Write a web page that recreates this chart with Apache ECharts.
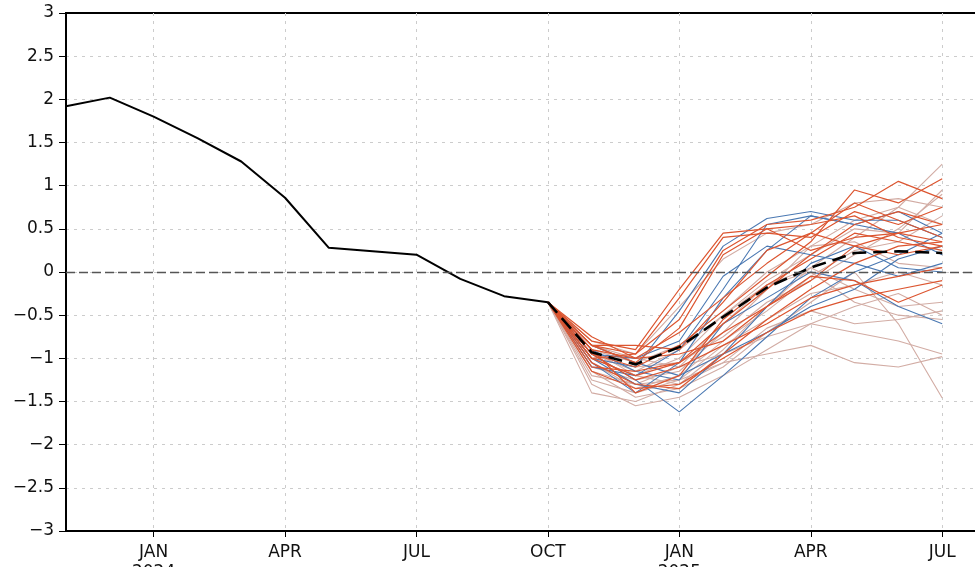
<html>
<head>
<meta charset="UTF-8">
<script src="https://cdn.jsdelivr.net/npm/echarts@6/dist/echarts.min.js"></script>
<style>
  html, body { margin: 0; padding: 0; background: #fff; }
  #main { width: 975px; height: 567px; }
</style>
</head>
<body>
<div id="main"></div>
<script type="text/javascript">
// months Nov 2023 .. Aug 2025
var months = ['2023-11','2023-12','2024-01','2024-02','2024-03','2024-04','2024-05','2024-06',
  '2024-07','2024-08','2024-09','2024-10','2024-11','2024-12','2025-01','2025-02','2025-03',
  '2025-04','2025-05','2025-06','2025-07','2025-08'];
var monthNames = ['JAN','FEB','MAR','APR','MAY','JUN','JUL','AUG','SEP','OCT','NOV','DEC'];

// observed index, Nov 2023 .. Oct 2024
var observed = [1.92, 2.02, 1.80, 1.55, 1.28, 0.86, 0.28, 0.24, 0.20, -0.08, -0.28, -0.35];

// forecasts start at Oct 2024 (index 11), Oct .. Jul
var fcStart = 11;
var ensMean = [-0.35, -0.93, -1.07, -0.87, -0.52, -0.18, 0.05, 0.22, 0.24, 0.22];

var orangeRuns = [
  [-0.35, -0.85, -0.95, -0.55, 0.25, 0.55, 0.60, 0.75, 1.05, 0.85],
  [-0.35, -0.95, -1.10, -0.85, -0.45, -0.05, 0.35, 0.95, 0.80, 1.08],
  [-0.35, -0.80, -0.90, -0.20, 0.45, 0.50, 0.55, 0.65, 0.40, 0.30],
  [-0.35, -1.00, -1.20, -1.05, -0.70, -0.40, -0.10, 0.30, 0.20, 0.30],
  [-0.35, -0.90, -1.00, -0.95, -0.80, -0.40, -0.05, -0.10, -0.35, -0.15],
  [-0.35, -1.05, -1.30, -1.35, -0.95, -0.55, -0.20, 0.10, 0.30, 0.35],
  [-0.35, -0.75, -1.00, -0.70, -0.30, 0.10, 0.45, 0.80, 0.60, 0.40],
  [-0.35, -1.10, -1.15, -1.05, -0.60, -0.20, 0.20, 0.55, 0.70, 0.55],
  [-0.35, -0.95, -1.25, -1.10, -0.85, -0.60, -0.30, -0.15, -0.05, 0.05],
  [-0.35, -0.85, -1.05, -0.65, 0.20, 0.50, 0.25, 0.40, 0.45, 0.35],
  [-0.35, -1.00, -0.95, -0.30, 0.40, 0.45, 0.40, 0.70, 0.55, 0.75],
  [-0.35, -0.90, -1.40, -1.20, -0.55, -0.15, 0.15, 0.45, 0.35, 0.25],
  [-0.35, -1.15, -1.35, -1.30, -1.00, -0.70, -0.45, -0.30, -0.20, -0.10],
  [-0.35, -0.85, -0.85, -0.90, -0.35, 0.25, 0.45, 0.30, 0.45, 0.55]
];

var blueRuns = [
  [-0.35, -1.00, -1.10, -0.45, 0.30, 0.62, 0.70, 0.60, 0.60, 0.40],
  [-0.35, -0.95, -1.25, -1.62, -1.20, -0.75, -0.30, 0.00, 0.20, 0.45],
  [-0.35, -1.05, -1.40, -1.05, -0.30, 0.25, 0.65, 0.55, 0.70, 0.45],
  [-0.35, -0.90, -1.15, -1.25, -0.60, -0.30, 0.00, -0.10, -0.40, -0.60],
  [-0.35, -0.95, -1.00, -0.80, -0.05, 0.30, 0.20, 0.10, -0.05, 0.10],
  [-0.35, -1.10, -1.20, -0.90, -0.20, 0.55, 0.65, 0.55, 0.45, 0.20],
  [-0.35, -0.85, -1.05, -1.20, -0.95, -0.70, -0.40, -0.20, 0.15, 0.30],
  [-0.35, -1.00, -1.30, -1.40, -0.95, -0.40, 0.10, 0.30, 0.05, 0.00]
];

var lightRuns = [
  [-0.35, -1.30, -1.55, -1.45, -1.20, -0.90, -0.60, -0.70, -0.80, -0.95],
  [-0.35, -0.90, -1.20, -1.30, -0.90, -0.40, 0.05, 0.40, 0.75, 1.25],
  [-0.35, -1.15, -1.45, -1.35, -1.10, -0.70, -0.35, 0.00, -0.60, -1.46],
  [-0.35, -0.80, -0.95, -0.40, 0.15, 0.45, 0.55, 0.80, 0.85, 0.75],
  [-0.35, -1.20, -1.30, -1.25, -1.05, -0.95, -0.85, -1.05, -1.10, -0.98],
  [-0.35, -1.00, -1.10, -1.05, -0.75, -0.35, -0.10, 0.20, 0.50, 0.90],
  [-0.35, -1.40, -1.50, -1.30, -1.05, -0.65, -0.45, -0.60, -0.55, -0.45],
  [-0.35, -0.95, -1.15, -0.90, -0.50, -0.15, 0.05, -0.20, -0.40, -0.35],
  [-0.35, -1.10, -1.25, -1.15, -0.70, -0.20, 0.30, 0.60, 0.75, 0.55],
  [-0.35, -0.85, -1.00, -1.10, -0.60, -0.15, 0.00, -0.35, -0.50, -0.55],
  [-0.35, -1.05, -1.35, -1.20, -0.80, -0.45, -0.05, 0.25, 0.35, 0.65],
  [-0.35, -0.90, -1.05, -0.85, -0.45, 0.00, 0.30, 0.35, 0.10, 0.05],
  [-0.35, -1.25, -1.40, -1.25, -0.85, -0.55, -0.25, -0.15, 0.00, -0.15],
  [-0.35, -1.00, -1.20, -1.00, -0.50, -0.10, 0.20, 0.50, 0.45, 0.95],
  [-0.35, -1.15, -1.30, -1.10, -0.95, -0.75, -0.60, -0.40, -0.25, -0.50]
];

function fill(vals, start) {
  var out = [];
  for (var i = 0; i < months.length; i++) {
    var k = i - start;
    out.push(k >= 0 && k < vals.length ? vals[k] : null);
  }
  return out;
}

function isQuarter(idx) {
  var m = parseInt(months[idx].split('-')[1], 10);
  return m === 1 || m === 4 || m === 7 || m === 10;
}

var font = 'DejaVu Sans';
var gridDash = { color: '#cccccc', width: 1, type: [3, 5] };

var series = [];
function addRuns(runs, color, width) {
  for (var i = 0; i < runs.length; i++) {
    series.push({
      type: 'line',
      data: fill(runs[i], fcStart),
      symbol: 'none',
      silent: true,
      lineStyle: { color: color, width: width }
    });
  }
}
addRuns(lightRuns, '#d2aca4', 1.1);
addRuns(blueRuns, '#4a78b2', 1.1);
addRuns(orangeRuns, '#dc5530', 1.2);

series.push({
  type: 'line',
  data: fill(observed, 0),
  symbol: 'none',
  lineStyle: { color: '#000', width: 2 },
  markLine: {
    silent: true,
    symbol: 'none',
    label: { show: false },
    lineStyle: { color: '#555', width: 1.3, type: [9, 4] },
    data: [{ yAxis: 0 }]
  }
});
series.push({
  type: 'line',
  data: fill(ensMean, fcStart),
  symbol: 'none',
  lineStyle: { color: '#000', width: 2.6, type: [14, 7] }
});

var option = {
  animation: false,
  backgroundColor: '#fff',
  grid: {
    left: 66, top: 13, bottom: 36, width: 920,
    outerBoundsMode: 'none',
    containLabel: false,
    show: true, borderColor: '#000', borderWidth: 2, backgroundColor: 'transparent'
  },
  xAxis: {
    type: 'category',
    data: months,
    boundaryGap: false,
    axisLine: { onZero: false, lineStyle: { color: '#000', width: 2 } },
    axisTick: { show: true, length: 6, interval: isQuarter, lineStyle: { color: '#000', width: 1 } },
    axisLabel: {
      interval: isQuarter,
      margin: 12,
      color: '#111',
      fontFamily: font,
      fontSize: 17,
      lineHeight: 20,
      formatter: function (v) {
        var p = v.split('-');
        var m = parseInt(p[1], 10);
        return m === 1 ? monthNames[0] + '\n' + p[0] : monthNames[m - 1];
      }
    },
    splitLine: { show: true, interval: isQuarter, lineStyle: gridDash }
  },
  yAxis: {
    type: 'value',
    min: -3, max: 3, interval: 0.5,
    axisLine: { show: true, lineStyle: { color: '#000', width: 2 } },
    axisTick: { show: true, length: 7, lineStyle: { color: '#000', width: 1 } },
    axisLabel: {
      margin: 12,
      color: '#111',
      fontFamily: font,
      fontSize: 17,
      formatter: function (v) { return String(v).replace('-', '\u2212'); }
    },
    splitLine: { show: true, showMinLine: false, showMaxLine: false, lineStyle: gridDash }
  },
  series: series
};

var chart = echarts.init(document.getElementById('main'), null, { renderer: 'canvas' });
chart.setOption(option);
</script>
</body>
</html>
